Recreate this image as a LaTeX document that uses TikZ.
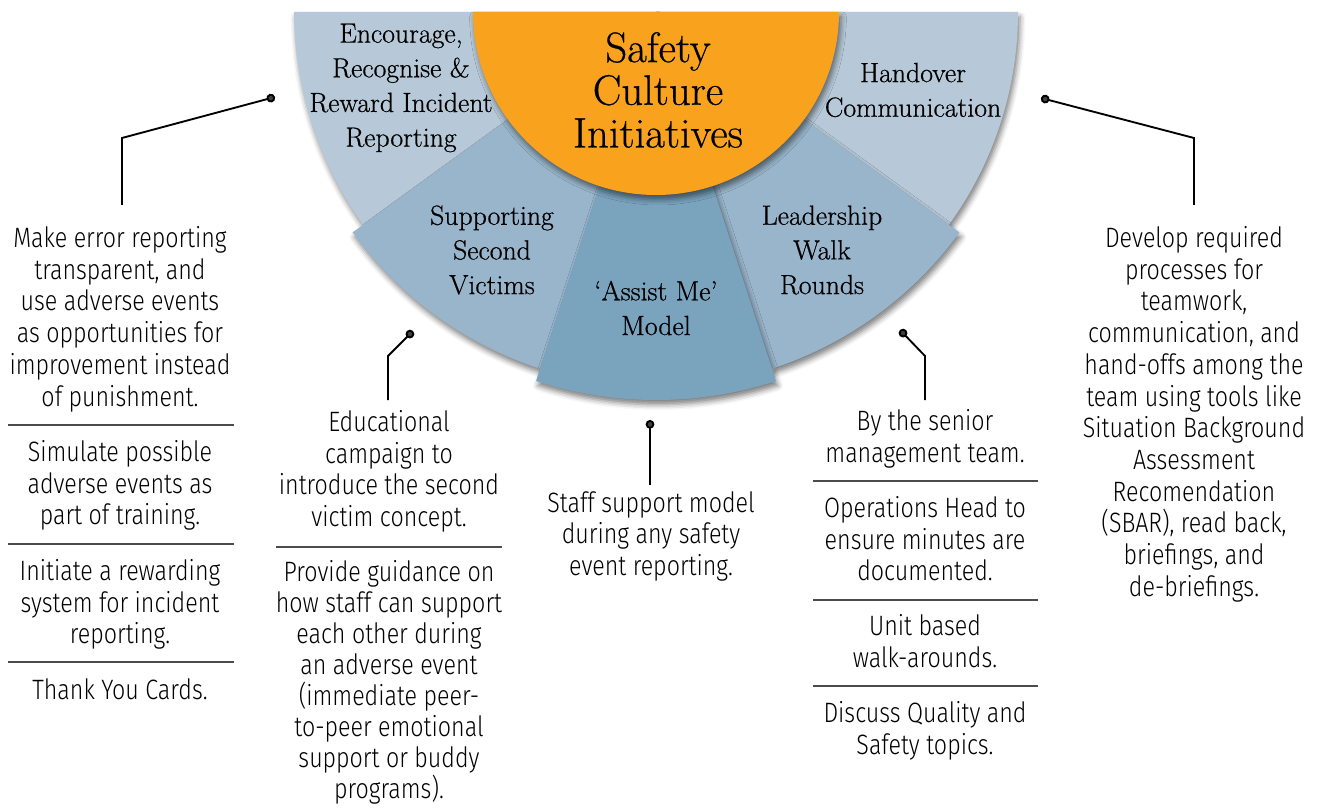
\documentclass[tikz,border=0pt]{standalone}
\usepackage{fontspec}
\newfontfamily\notefont[FakeStretch=0.83]{Fira Sans Light}
\newfontfamily\segfont[FakeBold=0.6, Ligatures=TeX]{Latin Modern Roman}
\usetikzlibrary{positioning, shadows.blur, arrows.meta}

\definecolor{ringlight}{RGB}{183,201,216}
\definecolor{ringmid}{RGB}{153,181,203}
\definecolor{ringdark}{RGB}{122,163,190}
\definecolor{hubfill}{RGB}{248,162,30}

\tikzset{
  sector/.style={blur shadow={shadow xshift=1.5pt, shadow yshift=-3.5pt, shadow blur radius=4pt, shadow opacity=50}},
  hubtext/.style={align=center, font=\segfont\fontsize{32}{32}\selectfont},
  segtext/.style={align=center, font=\segfont\fontsize{20.8}{26}\selectfont},
  note/.style={align=center, anchor=north, inner sep=0pt, font=\notefont\fontsize{21}{23.8}\selectfont},
  longnote/.style={note, font=\notefont\fontsize{21}{23.3}\selectfont},
  lead/.style={line width=1.4pt, {Circle[length=6.5pt]}-},
  rule/.style={line width=1.3pt, black!70},
}

\begin{document}
\begin{tikzpicture}[x=0.75pt, y=-0.75pt]
		\useasboundingbox (0,0) rectangle (1317,809);
		\coordinate (hub) at (656,12);
		
		% outer ring
		\fill[ringlight, sector] (hub) -- ++(180:362) arc[start angle=180, end angle=144, radius=362] -- cycle;
		\fill[ringlight, sector] (hub) -- ++(36:362) arc[start angle=36, end angle=0, radius=362] -- cycle;
		% middle ring
		\fill[ringmid, sector] (hub) -- ++(144:375) arc[start angle=144, end angle=108, radius=375] -- cycle;
		\fill[ringmid, sector] (hub) -- ++(72:375) arc[start angle=72, end angle=36, radius=375] -- cycle;
		% assist sector
		\fill[ringdark, sector] (hub) -- ++(108:388) arc[start angle=108, end angle=72, radius=388] -- cycle;
		% hub
		\fill[hubfill, sector] (hub) -- ++(180:183) arc[start angle=180, end angle=0, radius=183] -- cycle;
		
		\node[hubtext] (title) at (658,90) {Safety\\Culture\\Initiatives};
		\node[segtext] (encourage) at (401,88) {Encourage,\\Recognise \&\\Reward Incident\\Reporting};
		\node[segtext] (handover) at (913,90) {Handover\\Communication};
		\node[segtext] (victims) at (492,250) {Supporting\\Second\\Victims};
		\node[segtext] (walk) at (822,250) {Leadership\\Walk\\Rounds};
		\node[segtext] (assist) at (656,308) {‘Assist Me’\\Model};
		
		% notes
		\node[note] (rep1) at (120,226) {Make error reporting\\transparent, and\\use adverse events\\as opportunities for\\improvement instead\\of punishment.};
		\node[note] (rep2) at (120,440) {Simulate possible\\adverse events as\\part of training.};
		\node[note] (rep3) at (120,559) {Initiate a rewarding\\system for incident\\reporting.};
		\node[note] (rep4) at (120,678) {Thank You Cards.};
		
		\node[note] (vic1) at (389,410) {Educational\\campaign to\\introduce the second\\victim concept.};
		\node[longnote] (vic2) at (389,560) {Provide guidance on\\how staff can support\\each other during\\an adverse event\\(immediate peer-\\to-peer emotional\\support or buddy\\programs).};
		
		\node[note] (ast1) at (651,491) {Staff support model\\during any safety\\event reporting.};
		
		\node[note] (wlk1) at (925,409) {By the senior\\management team.};
		\node[note] (wlk2) at (925,496) {Operations Head to\\ensure minutes are\\documented.};
		\node[note] (wlk3) at (925,614) {Unit based\\walk-arounds.};
		\node[note] (wlk4) at (925,701) {Discuss Quality and\\Safety topics.};
		
		\node[note] (hnd1) at (1194,226) {Develop required\\processes for\\teamwork,\\communication, and\\hand-offs among the\\team using tools like\\Situation Background\\Assessment\\Recomendation\\(SBAR), read back,\\briefings, and\\de-briefings.};
		
		% rules between notes
		\foreach \y in {425,544,662}
			\draw[rule] (8,\y) -- (234,\y);
		\draw[rule] (276,547) -- (502,547);
		\foreach \y in {481,600,686}
			\draw[rule] (813,\y) -- (1038,\y);
		
		% leads
		\coordinate (rep-dot) at (275,97);
		\coordinate (rep-bend) at (122,138);
		\coordinate (rep-end) at (122,205);
		\coordinate (vic-dot) at (413,331);
		\coordinate (vic-bend) at (388,356);
		\coordinate (vic-end) at (388,400);
		\coordinate (ast-dot) at (650,420);
		\coordinate (ast-end) at (650,485);
		\coordinate (wlk-dot) at (900,330);
		\coordinate (wlk-bend) at (925,356);
		\coordinate (wlk-end) at (925,400);
		\coordinate (hnd-dot) at (1041,98);
		\coordinate (hnd-bend) at (1194,138);
		\coordinate (hnd-end) at (1194,205);
		
		\draw[lead] (rep-dot) -- (rep-bend) -- (rep-end);
		\draw[lead] (vic-dot) -- (vic-bend) -- (vic-end);
		\draw[lead] (ast-dot) -- (ast-end);
		\draw[lead] (wlk-dot) -- (wlk-bend) -- (wlk-end);
		\draw[lead] (hnd-dot) -- (hnd-bend) -- (hnd-end);
\end{tikzpicture}
\end{document}
